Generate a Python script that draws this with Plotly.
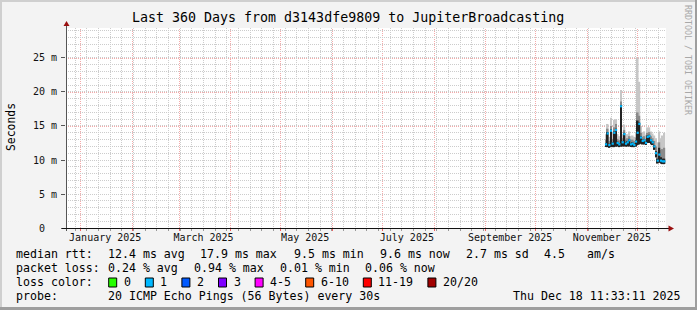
import plotly.graph_objects as go
import pandas as pd

# ---------------- data ----------------
END = pd.Timestamp("2025-12-18 11:33:11")
START = END - pd.Timedelta(days=360)

median = [12.3, 13.9, 12.2, 14.3, 12.4, 14.0, 14.4, 12.5, 12.3, 17.9, 12.6, 13.8,
          12.4, 12.6, 12.9, 12.3, 12.4, 12.2, 12.7, 14.0, 15.3, 13.3, 12.8, 12.9,
          12.5, 13.4, 13.5, 12.9, 12.6, 12.0, 11.0, 9.9, 10.8, 9.9, 9.8, 9.8]
smoke_lo = [11.9, 11.9, 11.8, 11.9, 11.9, 11.9, 12.0, 12.0, 11.9, 12.0, 12.0, 12.0,
            12.0, 12.0, 12.0, 11.9, 11.9, 11.9, 12.0, 12.2, 12.3, 12.4, 12.3, 12.3,
            12.2, 12.5, 12.5, 12.3, 12.2, 11.5, 10.4, 9.5, 9.6, 9.5, 9.4, 9.4]
core_hi = [12.5, 14.1, 12.4, 14.5, 12.6, 14.2, 14.6, 12.7, 12.5, 18.1, 12.8, 14.0,
           12.6, 12.8, 13.1, 12.5, 12.6, 12.4, 12.9, 15.8, 15.5, 13.5, 13.0, 13.1,
           12.7, 13.6, 13.7, 13.1, 12.8, 12.2, 11.3, 10.2, 11.8, 10.4, 10.2, 10.2]
mid_hi = [13.0, 14.6, 12.8, 15.0, 13.1, 14.8, 15.3, 13.1, 12.9, 18.6, 13.2, 14.4,
          13.0, 13.2, 13.5, 12.9, 13.0, 12.8, 13.3, 17.0, 16.5, 14.0, 13.4, 13.5,
          13.1, 14.0, 14.1, 13.5, 13.2, 12.8, 12.0, 11.2, 12.6, 11.5, 11.6, 11.8]
smoke_max = [13.8, 15.3, 13.4, 16.2, 14.0, 15.9, 16.0, 13.8, 13.5, 20.3, 13.8, 15.2,
             13.6, 13.8, 14.2, 13.5, 13.6, 13.4, 14.0, 25.0, 21.5, 15.0, 14.0, 14.2,
             13.7, 14.8, 14.8, 14.2, 13.9, 13.6, 13.2, 12.6, 14.2, 13.2, 13.6, 14.0]
dates = pd.date_range("2025-11-12 12:00", periods=len(median), freq="D")

y_tickvals = [0, 5, 10, 15, 20, 25]
y_ticktext = ["0\u00a0\u00a0", "5 m", "10 m", "15 m", "20 m", "25 m"]
month_labels = ["January 2025", "March 2025", "May 2025", "July 2025",
                "September 2025", "November 2025"]
month_label_dates = ["2025-01-16", "2025-03-16", "2025-05-16", "2025-07-16",
                     "2025-09-16", "2025-11-16"]
month_starts = pd.date_range("2025-01-01", "2025-12-01", freq="MS")

title_text = "Last 360 Days from d3143dfe9809 to JupiterBroadcasting"
row_rtt = [("median rtt:", 16), ("12.4 ms avg", 107.3), ("17.9 ms max", 200),
           ("9.5 ms min", 293.3), ("9.6 ms now", 379.3), ("2.7 ms sd", 466),
           ("4.5", 544), ("am/s", 586.7)]
row_loss = [("packet loss:", 16), ("0.24 % avg", 107.3), ("0.94 % max", 193.7),
            ("0.01 % min", 279.3), ("0.06 % now", 365)]
loss_labels = ["0", "1", "2", "3", "4-5", "6-10", "11-19", "20/20"]
loss_colors = ["#26ff00", "#00b8ff", "#0059ff", "#7e00ff", "#ff00ff",
               "#ff5500", "#ff0000", "#a10000"]
row_probe = [("probe:", 16), ("20 ICMP Echo Pings (56 Bytes) every 30s", 107.3),
             ("Thu Dec 18 11:33:11 2025", 513)]

# ---------------- layout helpers ----------------
W, H = 697, 310
L, R, T, B = 66, 666, 28, 228
FONT = "DejaVu Sans Mono"
RED_GRID = "#f4aaaa"
GRAY_GRID = "#cccccc"
Y_MAX = 29.41


def fx(x):
    return (x - L) / (R - L)


def fy(y):
    return (B - y) / (B - T)


def date_px(d):
    return L + (pd.Timestamp(d) - START) / (END - START) * (R - L)


def val_py(v):
    return B - v / Y_MAX * (B - T)


DAY_MS = 86400000
fig = go.Figure()

for top, color in [(smoke_max, "#c6c6c6"), (mid_hi, "#8a8a8a"), (core_hi, "#222222")]:
    fig.add_trace(go.Bar(
        x=dates, y=[t - b for t, b in zip(top, smoke_lo)], base=smoke_lo,
        width=DAY_MS, marker=dict(color=color, line=dict(width=0)),
        showlegend=False, hoverinfo="skip"))

fig.add_trace(go.Scatter(
    x=dates, y=median, mode="markers",
    marker=dict(symbol="square", size=2.2, color=loss_colors[1], line=dict(width=0)),
    showlegend=False))

shapes = []
# month-start red grid lines + small ticks (snapped to pixel centres)
for d in month_starts:
    xp = fx(round(date_px(d)) + 0.5)
    shapes.append(dict(type="line", xref="paper", yref="paper", x0=xp, x1=xp, y0=0, y1=1,
                       line=dict(color=RED_GRID, width=1, dash="1px,1px"), layer="below"))
    shapes.append(dict(type="line", xref="paper", yref="paper", x0=xp, x1=xp,
                       y0=fy(228), y1=fy(231), line=dict(color="#f06060", width=1)))
# major horizontal red grid lines
for v in y_tickvals[1:]:
    yp = fy(round(val_py(v)) + 0.5)
    shapes.append(dict(type="line", xref="paper", yref="paper", x0=0, x1=1, y0=yp, y1=yp,
                       line=dict(color=RED_GRID, width=1, dash="1px,1px"), layer="below"))

# axes lines
shapes.append(dict(type="line", xref="paper", yref="paper", x0=fx(66.5), x1=fx(66.5),
                   y0=fy(231), y1=fy(24), line=dict(color="#555555", width=1)))
shapes.append(dict(type="line", xref="paper", yref="paper", x0=fx(62), x1=fx(669),
                   y0=fy(228.5), y1=fy(228.5), line=dict(color="#111111", width=1)))
# arrows
shapes.append(dict(type="path", xref="paper", yref="paper",
                   path=f"M {fx(66.5)},{fy(21)} L {fx(63.5)},{fy(26)} L {fx(69.5)},{fy(26)} Z",
                   fillcolor="#9a1010", line=dict(width=0)))
shapes.append(dict(type="path", xref="paper", yref="paper",
                   path=f"M {fx(674)},{fy(228.5)} L {fx(668.5)},{fy(225.5)} L {fx(668.5)},{fy(231.5)} Z",
                   fillcolor="#9a1010", line=dict(width=0)))
# frame (3D shade)
shapes.append(dict(type="rect", xref="paper", yref="paper", x0=fx(0), x1=fx(697),
                   y0=fy(0), y1=fy(2), fillcolor="#cfcfcf", line=dict(width=0)))
shapes.append(dict(type="rect", xref="paper", yref="paper", x0=fx(0), x1=fx(2),
                   y0=fy(0), y1=fy(310), fillcolor="#cfcfcf", line=dict(width=0)))
shapes.append(dict(type="rect", xref="paper", yref="paper", x0=fx(695), x1=fx(697),
                   y0=fy(0), y1=fy(310), fillcolor="#9e9e9e", line=dict(width=0)))
shapes.append(dict(type="rect", xref="paper", yref="paper", x0=fx(0), x1=fx(697),
                   y0=fy(307), y1=fy(310), fillcolor="#9e9e9e", line=dict(width=0)))

annotations = []


def text(s, x, y, size=11.6, color="#000000", xanchor="left", angle=0):
    annotations.append(dict(text=s, x=fx(x), y=fy(y), xref="paper", yref="paper",
                            xanchor=xanchor, yanchor="middle", showarrow=False,
                            borderpad=0, textangle=angle,
                            font=dict(family=FONT, size=size, color=color)))


text(title_text, 347.5, 18, size=13.3, xanchor="center")
text("Seconds", 11, 127, size=11.4, xanchor="center", angle=-90)
text("RRDTOOL / TOBI OETIKER", 688, 60, size=8.3, color="#a8a8a8", xanchor="center", angle=90)

for s, x in row_rtt:
    text(s, x - 0.7, 254.3)
for s, x in row_loss:
    text(s, x - 0.7, 268.3)
text("loss color:", 15.3, 282.3)
bx = 108.7
for lab, col in zip(loss_labels, loss_colors):
    shapes.append(dict(type="rect", xref="paper", yref="paper", x0=fx(bx), x1=fx(bx + 8),
                       y0=fy(278), y1=fy(287), fillcolor=col,
                       line=dict(color="#000000", width=1)))
    text(lab, bx + 14, 282.3)
    bx += 29.6 + 7 * len(lab)
for s, x in row_probe:
    text(s, x - 0.7, 296)

tickfont = dict(family=FONT, size=10, color="#111111")
fig.update_layout(
    width=W, height=H, autosize=False,
    margin=dict(l=L, r=W - R, t=T, b=H - B, pad=0),
    paper_bgcolor="#f3f3f3", plot_bgcolor="#ffffff",
    barmode="overlay", showlegend=False,
    shapes=shapes, annotations=annotations,
    xaxis=dict(type="date", range=[START, END], tickmode="array",
               tickvals=month_label_dates, ticktext=month_labels, ticks="",
               showgrid=False, zeroline=False, showline=False, tickfont=tickfont,
               ticklabelstandoff=2,
               minor=dict(dtick=7 * DAY_MS, tick0="2025-01-05", showgrid=True,
                          gridcolor=GRAY_GRID, griddash="1px,1px", gridwidth=1,
                          ticks="outside", ticklen=2, tickcolor="#999999")),
    yaxis=dict(range=[0, Y_MAX], tickmode="array", tickvals=y_tickvals,
               ticktext=y_ticktext, showgrid=False, ticks="outside", ticklen=4,
               tickcolor="#555555", zeroline=False, showline=False,
               tickfont=tickfont, ticklabelstandoff=2,
               minor=dict(dtick=1, showgrid=True, gridcolor=GRAY_GRID,
                          griddash="1px,1px", gridwidth=1, ticks="",
                          ticklen=2, tickcolor="#888888")),
)

fig.write_html("out.html")
